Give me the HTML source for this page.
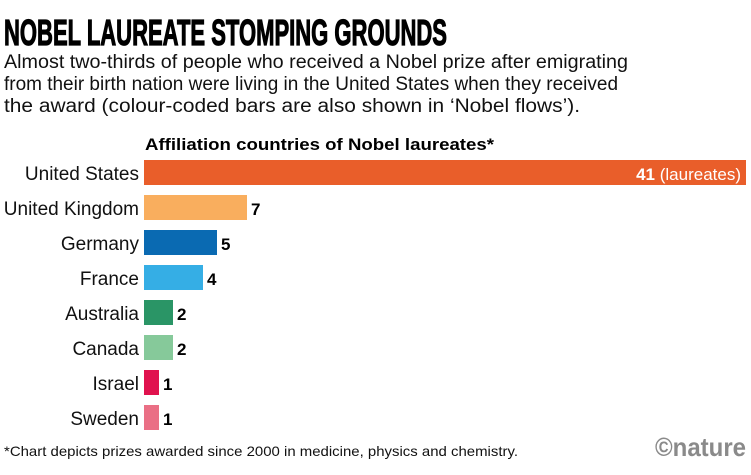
<!DOCTYPE html>
<html><head><style>body{margin:0;background:#fff}svg{display:block}</style></head><body>
<svg width="751" height="475" xmlns="http://www.w3.org/2000/svg" font-family="Liberation Sans, sans-serif">
<text x="4" y="45" font-family="Liberation Sans Narrow, Liberation Sans, sans-serif" font-weight="bold" font-size="36" stroke="#000" stroke-width="1.2" textLength="443" lengthAdjust="spacingAndGlyphs">NOBEL LAUREATE STOMPING GROUNDS</text>
<g font-size="19" fill="#111">
<text x="4" y="68" textLength="624" lengthAdjust="spacingAndGlyphs">Almost two-thirds of people who received a Nobel prize after emigrating</text>
<text x="4" y="90" textLength="614" lengthAdjust="spacingAndGlyphs">from their birth nation were living in the United States when they received</text>
<text x="4" y="112" textLength="576" lengthAdjust="spacingAndGlyphs">the award (colour-coded bars are also shown in ‘Nobel flows’).</text>
</g>
<text x="145" y="150" font-size="17" font-weight="bold" textLength="349" lengthAdjust="spacingAndGlyphs">Affiliation countries of Nobel laureates*</text>
<g text-anchor="end" fill="#111" font-size="19">
<text x="139" y="180">United States</text>
<text x="139" y="215">United Kingdom</text>
<text x="139" y="250">Germany</text>
<text x="139" y="285">France</text>
<text x="139" y="320">Australia</text>
<text x="139" y="355">Canada</text>
<text x="139" y="390">Israel</text>
<text x="139" y="425">Sweden</text>
</g>
<rect x="144" y="160" width="602" height="25" fill="#e95e2a"/>
<rect x="144" y="195" width="103" height="25" fill="#f9ae5e"/>
<rect x="144" y="230" width="73" height="25" fill="#0a6ab2"/>
<rect x="144" y="265" width="59" height="25" fill="#35aee5"/>
<rect x="144" y="300" width="29" height="25" fill="#2a9566"/>
<rect x="144" y="335" width="29" height="25" fill="#86c99a"/>
<rect x="144" y="370" width="15" height="25" fill="#e0124e"/>
<rect x="144" y="405" width="15" height="25" fill="#ea6f85"/>
<text x="741" y="180" font-size="17" fill="#fff" text-anchor="end"><tspan font-weight="bold">41</tspan> (laureates)</text>
<g font-size="17" font-weight="bold">
<text x="251" y="215">7</text>
<text x="221" y="250">5</text>
<text x="207" y="285">4</text>
<text x="177" y="320">2</text>
<text x="177" y="355">2</text>
<text x="163" y="390">1</text>
<text x="163" y="425">1</text>
</g>
<text x="4" y="456" font-size="14" fill="#111" textLength="514" lengthAdjust="spacingAndGlyphs">*Chart depicts prizes awarded since 2000 in medicine, physics and chemistry.</text>
<text x="655" y="456" font-size="26" font-weight="bold" fill="#8a8a8a" textLength="91" lengthAdjust="spacingAndGlyphs">©nature</text>
</svg>
</body></html>
